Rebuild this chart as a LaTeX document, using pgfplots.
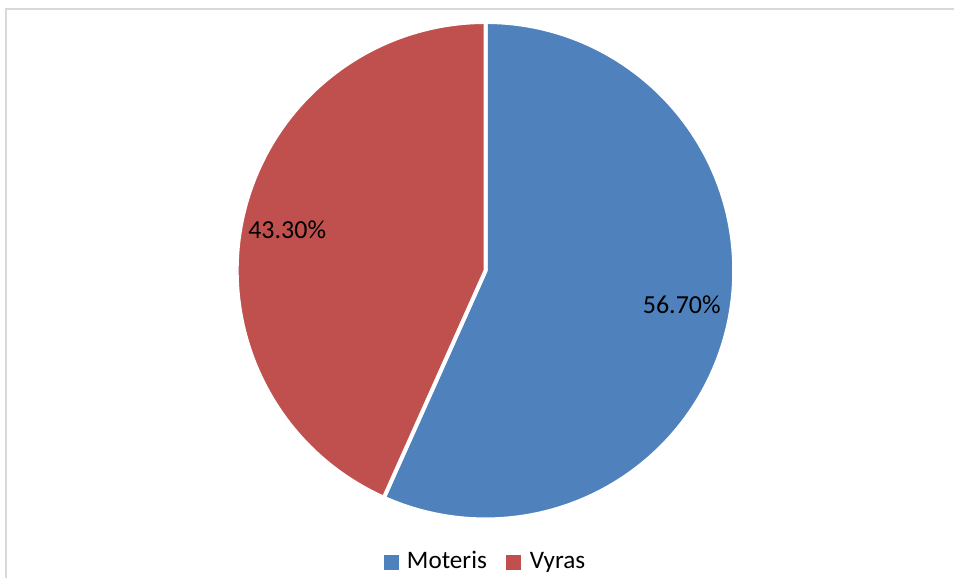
\documentclass[border=0pt]{standalone}
\usepackage{fontspec}
\setmainfont{Carlito}
\usepackage{pgfplots}
\usepackage{pgfplotstable}
\pgfplotsset{compat=1.18}
\definecolor{blueS}{HTML}{4F81BD}
\definecolor{redS}{HTML}{C0504D}
\definecolor{frameC}{HTML}{D9D9D9}
\pgfplotstableread{
label value
Moteris 56.70
Vyras 43.30
}\piedata
\begin{document}
\begin{tikzpicture}
\pgfplotstablegetelem{0}{value}\of\piedata
\pgfmathsetmacro{\va}{\pgfplotsretval}
\pgfplotstablegetelem{1}{value}\of\piedata
\pgfmathsetmacro{\vb}{\pgfplotsretval}
\pgfmathsetmacro{\aend}{90-3.6*\va}
\pgfmathsetmacro{\bend}{\aend-3.6*\vb}
\begin{axis}[width=477.5pt,height=289.5pt,scale only axis,
  xmin=0,xmax=955,ymin=0,ymax=579,hide axis,clip=false]
\path (axis cs:0,0) rectangle (axis cs:955,579);
\draw[frameC,line width=1pt] (axis cs:6.5,0) -- (axis cs:6.5,569.5) -- (axis cs:955,569.5);
\filldraw[fill=blueS,draw=white,line width=2pt,line join=round]
  (axis cs:486,308) -- ++(90:124.5pt) arc[start angle=90,end angle=\aend,radius=124.5pt] -- cycle;
\filldraw[fill=redS,draw=white,line width=2pt,line join=round]
  (axis cs:486,308) -- ++(\aend:124.5pt) arc[start angle=\aend,end angle=\bend,radius=124.5pt] -- cycle;
\node[anchor=base,inner sep=0pt,font=\fontsize{13}{15}\selectfont] at (axis cs:682.5,265) {\pgfmathprintnumber[fixed,fixed zerofill,precision=2,assume math mode=true]{\va}\%};
\node[anchor=base,inner sep=0pt,font=\fontsize{13}{15}\selectfont] at (axis cs:287.5,340) {\pgfmathprintnumber[fixed,fixed zerofill,precision=2,assume math mode=true]{\vb}\%};
\fill[blueS] (axis cs:384,8) rectangle (axis cs:399,23);
\fill[redS] (axis cs:507,8) rectangle (axis cs:522,23);
\node[anchor=base west,inner sep=0pt,font=\fontsize{12.6}{15}\selectfont] at (axis cs:407,10) {Moteris};
\node[anchor=base west,inner sep=0pt,font=\fontsize{12.6}{15}\selectfont] at (axis cs:530,10) {Vyras};
\end{axis}
\end{tikzpicture}
\end{document}
